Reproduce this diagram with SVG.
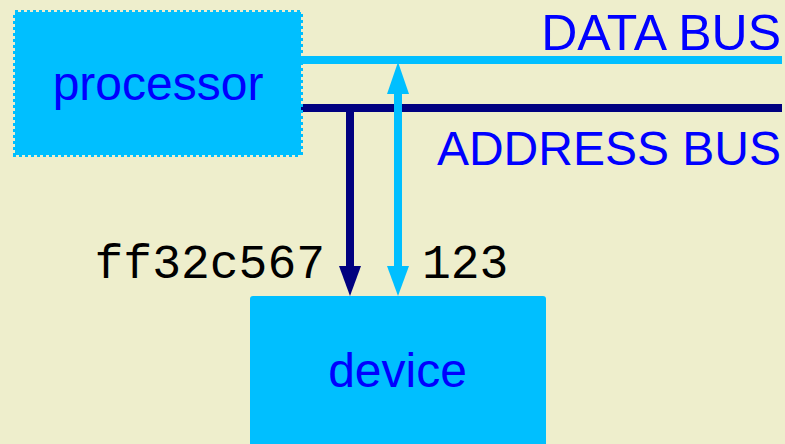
<svg xmlns="http://www.w3.org/2000/svg" width="785" height="444" viewBox="0 0 785 444">
<style>
.box{fill:#00BFFF}
.lbl{font-family:"Liberation Sans",Arial,sans-serif;font-size:48px;fill:#0000FF}
.mono{font-family:"Liberation Mono","Courier New",monospace;font-size:48px;fill:#000000}
.data{stroke:#00BFFF;stroke-width:8;fill:none}
.addr{stroke:#000080;stroke-width:8;fill:none}
.dh{fill:#00BFFF}
.ah{fill:#000080}
</style>
<rect x="0" y="0" width="785" height="444" fill="#EEEECC"/>
<g id="connectors">
<line class="data" x1="300" y1="60" x2="782" y2="60"/>
<line class="addr" x1="300" y1="108" x2="782" y2="108"/>
<line class="addr" x1="350" y1="108" x2="350" y2="270"/>
<polygon class="ah" points="339,266 361,266 350,296"/>
<line class="data" x1="398" y1="90" x2="398" y2="270"/>
<polygon class="dh" points="387,94 409,94 398,62"/>
<polygon class="dh" points="387,266 409,266 398,296"/>
</g>
<g id="bus-labels">
<text class="lbl" x="781" y="50" text-anchor="end" style="font-size:50px">DATA BUS</text>
<text class="lbl" x="781" y="165" text-anchor="end">ADDRESS BUS</text>
</g>
<g id="connector-labels">
<text class="mono" x="325" y="278" text-anchor="end">ff32c567</text>
<text class="mono" x="422" y="278">123</text>
</g>
<g id="processor">
<rect class="box" x="15" y="12" width="286" height="143" stroke="#00BFFF" stroke-width="4" stroke-dasharray="3 3"/>
<text class="lbl" x="158" y="100" text-anchor="middle">processor</text>
</g>
<g id="device">
<rect class="box" x="250" y="296" width="296" height="160" rx="3"/>
<text class="lbl" x="397.5" y="387" text-anchor="middle">device</text>
</g>
</svg>
